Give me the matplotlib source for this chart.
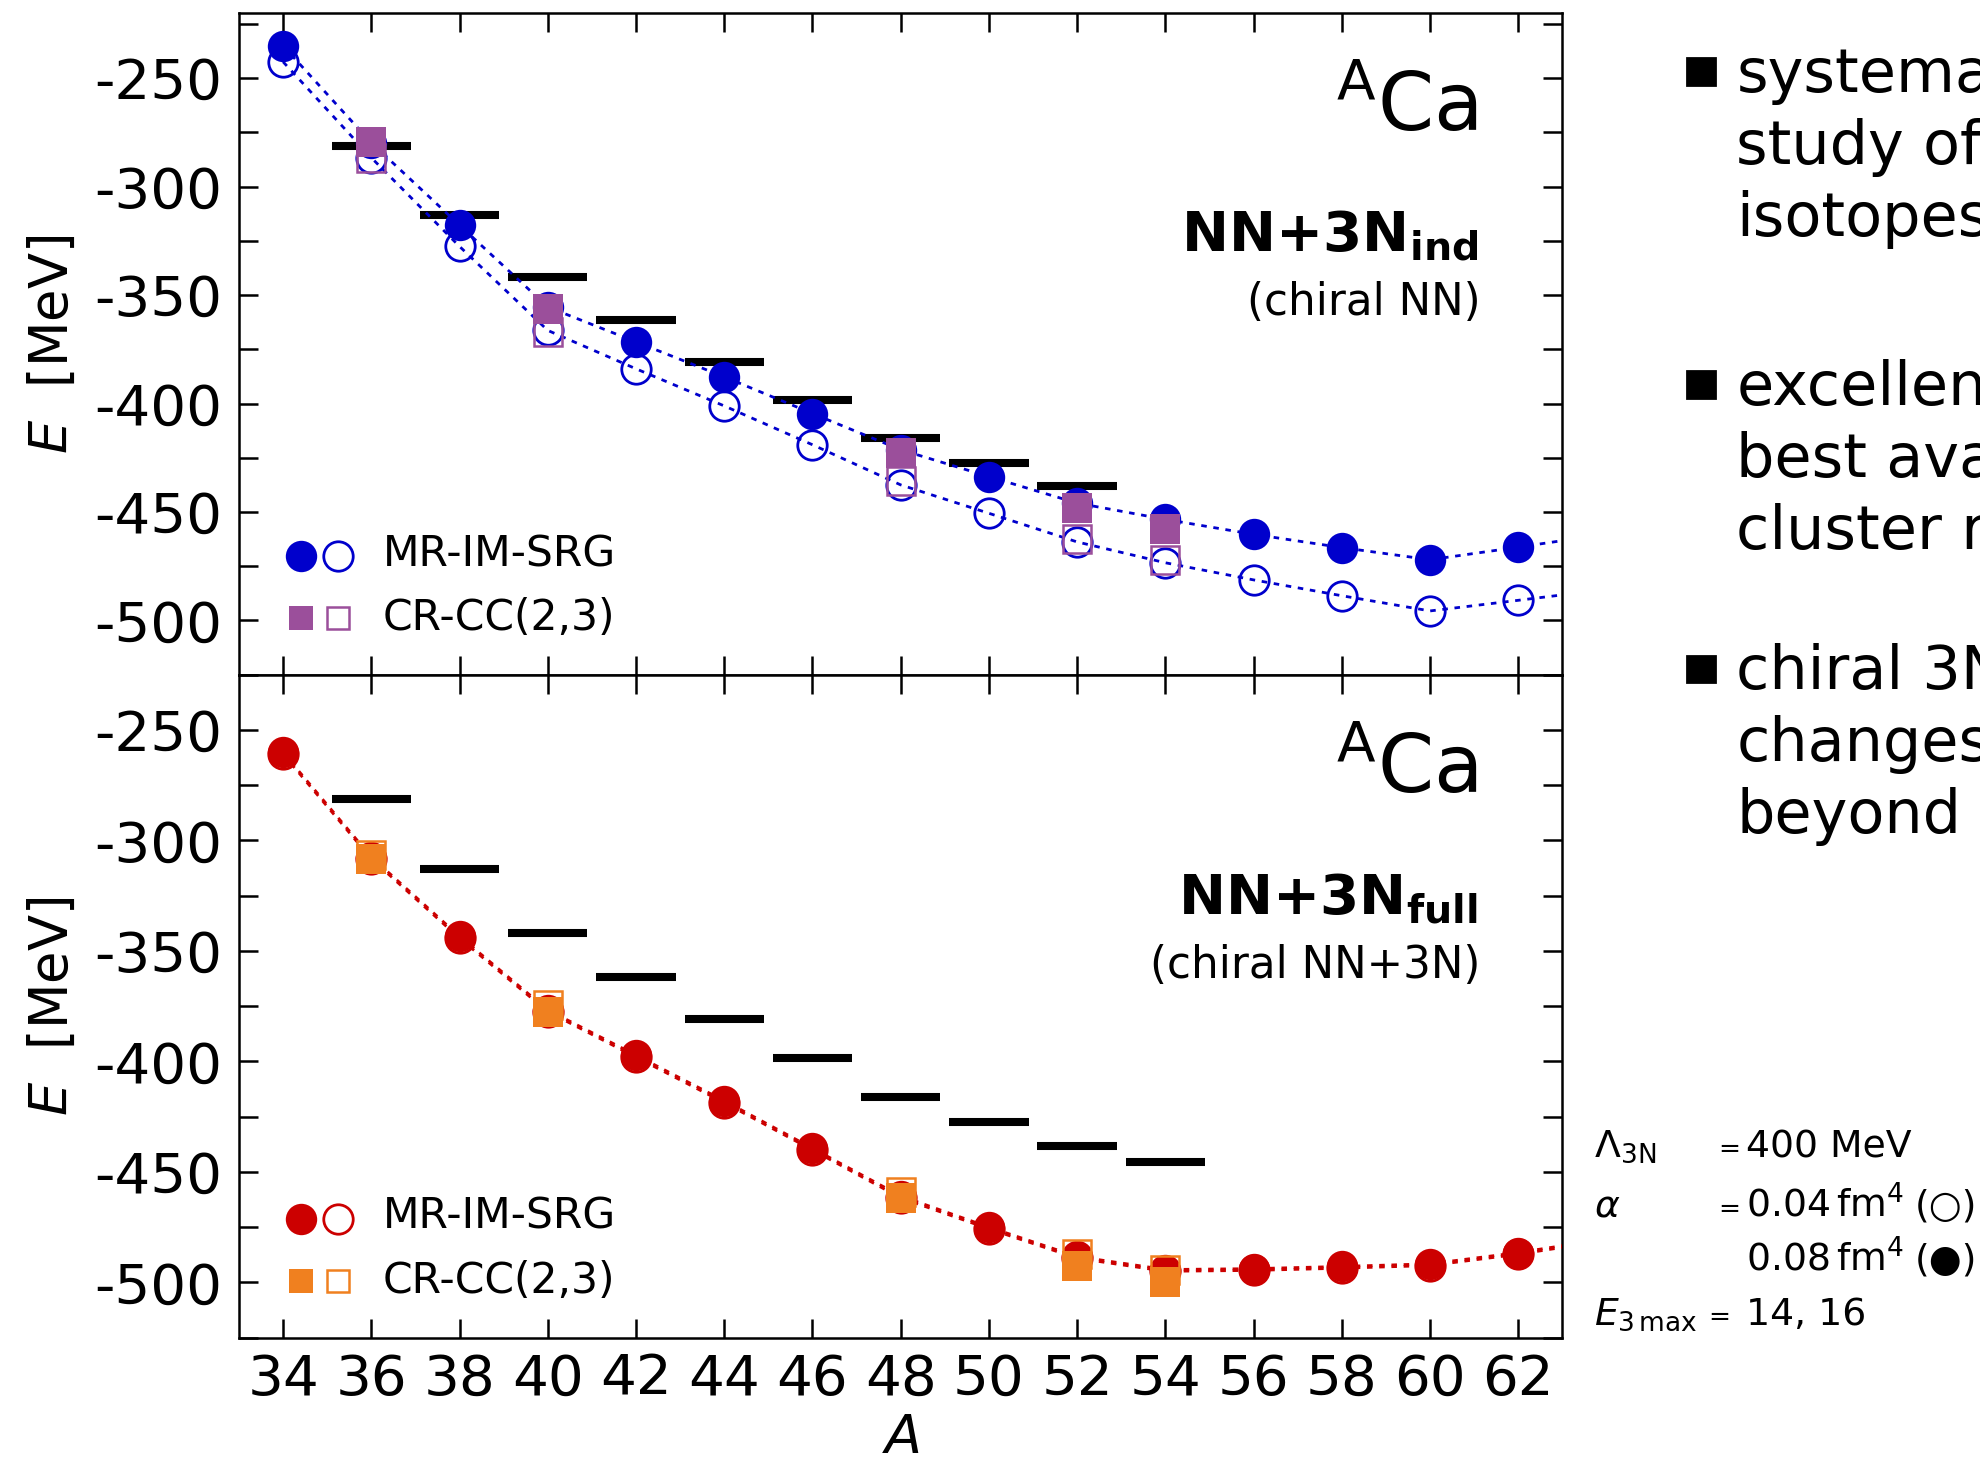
import numpy as np
import matplotlib.pyplot as plt
from matplotlib.patches import Rectangle

plt.rcParams['font.family'] = ['DejaVu Sans']
plt.rcParams['mathtext.fontset'] = 'dejavusans'
plt.rcParams['axes.unicode_minus'] = False

# mass numbers of the calculated isotopes (64 only carries the line to the frame)
A_calc = [34, 36, 38, 40, 42, 44, 46, 48, 50, 52, 54, 56, 58, 60, 62, 64]
A_cc = [36, 40, 48, 52, 54]
A_exp = [36, 38, 40, 42, 44, 46, 48, 50, 52, 54]

# NN+3N induced, MR-IM-SRG, alpha = 0.08 (filled) / 0.04 (open)
ind_imsrg_08 = [-235.1, -279.8, -317.8, -355.5, -371.6, -387.7, -404.6, -421.3,
                -433.7, -445.9, -453.4, -460.3, -466.4, -472.0, -466.2, -460.2]
ind_imsrg_04 = [-242.5, -286.7, -327.6, -366.3, -384.0, -401.1, -419.0, -437.5,
                -450.6, -463.8, -473.4, -481.3, -488.6, -495.6, -490.7, -485.7]
ind_cc_08 = [-279.5, -356.5, -422.7, -448.3, -457.7]
ind_cc_04 = [-287.0, -366.9, -435.7, -462.4, -472.2]

# NN+3N full
full_imsrg_08 = [-260.2, -307.5, -343.4, -376.7, -397.2, -417.8, -439.3, -460.9,
                 -475.0, -488.3, -494.2, -493.8, -492.8, -491.6, -486.5, -480.3]
full_imsrg_04 = [-261.0, -308.3, -344.3, -377.5, -398.1, -418.7, -440.1, -461.8,
                 -475.8, -489.1, -495.0, -494.6, -493.6, -492.4, -487.3, -481.1]
full_cc_08 = [-308.5, -377.7, -461.9, -492.8, -499.8]
full_cc_04 = [-306.5, -374.7, -458.9, -487.3, -494.2]

# experiment
E_exp = [-281.2, -313.0, -341.8, -361.7, -380.8, -398.5, -415.9, -427.4, -438.2, -445.6]

BLUE = '#0000cc'
PURPLE = '#9b4f9b'
RED = '#cc0000'
ORANGE = '#f0801f'
DOT = (0, (2.0, 2.4))

fig = plt.figure(figsize=(9.9, 7.31), dpi=200)
ax1 = fig.add_axes([0.1207, 0.5385, 0.6684, 0.4526])
ax2 = fig.add_axes([0.1207, 0.0851, 0.6684, 0.4534])


def panel(ax, im08, im04, cc08, cc04, cl, ccol, n_exp, ylim, main, sub):
    ax.hlines(E_exp[:n_exp], np.array(A_exp[:n_exp]) - 0.9, np.array(A_exp[:n_exp]) + 0.9,
              color='k', lw=2.9, zorder=2)
    ax.plot(A_calc, im04, ls=DOT, lw=1.0, color=cl, marker='o', ms=10.6,
            mfc='none', mec=cl, mew=1.0, zorder=3)
    ax.plot(A_calc, im08, ls=DOT, lw=1.0, color=cl, marker='o', ms=11.3,
            mfc=cl, mec=cl, mew=0, zorder=3)
    ax.plot(A_cc, cc04, ls='none', marker='s', ms=10.0, mfc='none', mec=ccol,
            mew=0.9, zorder=4)
    ax.plot(A_cc, cc08, ls='none', marker='s', ms=10.8, mfc=ccol, mew=0, zorder=5)

    ax.set_xlim(33, 63)
    ax.set_ylim(*ylim)
    ax.set_xticks(range(34, 63, 2))
    ax.set_yticks(np.arange(-500, -249, 50))
    ax.set_yticks(np.arange(-525, -200, 25), minor=True)
    ax.tick_params(which='both', direction='in', top=True, right=True,
                   length=6.75, width=0.9, labelsize=20.3)
    ax.tick_params(axis='y', pad=6)
    ax.tick_params(axis='x', pad=5.5)
    for s in ax.spines.values():
        s.set_linewidth(0.9)
    ax.set_ylabel(r'$E$  [MeV]', fontsize=19)
    ax.yaxis.set_label_coords(-0.121, 0.5)

    # legend
    tr = ax.transAxes
    ax.plot([0.0472], [0.179], 'o', ms=11.3, mfc=cl, mew=0, transform=tr, clip_on=False)
    ax.plot([0.0749], [0.179], 'o', ms=10.6, mfc='none', mec=cl, mew=1.0,
            transform=tr, clip_on=False)
    ax.plot([0.0472], [0.0852], 's', ms=8.6, mfc=ccol, mew=0, transform=tr, clip_on=False)
    ax.plot([0.0749], [0.0852], 's', ms=8.0, mfc='none', mec=ccol, mew=0.9,
            transform=tr, clip_on=False)
    ax.text(0.1085, 0.1639, 'MR-IM-SRG', fontsize=15.3, transform=tr, va='baseline')
    ax.text(0.1085, 0.0675, 'CR-CC(2,3)', fontsize=15.3, transform=tr, va='baseline')

    ax.text(0.936, 0.822, r'$^{\rm A}$Ca', fontsize=29, ha='right', va='baseline',
            transform=tr)
    ax.text(0.936, 0.639, main, fontsize=20.3, ha='right', va='baseline', transform=tr)
    ax.text(0.938, 0.543, sub, fontsize=15.7, ha='right', va='baseline', transform=tr)


panel(ax1, ind_imsrg_08, ind_imsrg_04, ind_cc_08, ind_cc_04, BLUE, PURPLE, 9,
      (-520, -220), r'$\mathbf{NN{+}3N}_{\mathbf{ind}}$', '(chiral NN)')
panel(ax2, full_imsrg_08, full_imsrg_04, full_cc_08, full_cc_04, RED, ORANGE, 10,
      (-520, -229.8), r'$\mathbf{NN{+}3N}_{\mathbf{full}}$', '(chiral NN+3N)')
ax1.tick_params(labelbottom=False)
ax2.set_xlabel(r'$A$', fontsize=19.5, labelpad=2)

# bullet points on the right, cut by the page edge
bullets = [['systematic', 'study of Ca', 'isotopes'],
           ['excellent', 'best available', 'cluster results'],
           ['chiral 3N', 'changes', 'beyond']]
first_base = [0.9373, 0.7232, 0.5287]
for lines, y0 in zip(bullets, first_base):
    fig.add_artist(Rectangle((0.8518, y0 + 0.0045), 0.0142, 0.0183,
                             transform=fig.transFigure, color='k'))
    for i, t in enumerate(lines):
        fig.text(0.8770, y0 - i * 0.0493, t, fontsize=21.8, va='baseline')

# parameters
fs = 13.6
rows = [0.2086, 0.1678, 0.1313, 0.0937]
fig.text(0.805, rows[0], r'$\Lambda_{\rm 3N}$', fontsize=fs, va='baseline')
fig.text(0.805, rows[1], r'$\alpha$', fontsize=fs, va='baseline')
fig.text(0.805, rows[3], r'$E_{\rm 3\,max}$', fontsize=fs, va='baseline')
fig.text(0.8677, rows[0], '=', fontsize=9.5, va='baseline')
fig.text(0.8677, rows[1], '=', fontsize=9.5, va='baseline')
fig.text(0.8626, rows[3], '=', fontsize=9.5, va='baseline')
fig.text(0.8818, rows[0], '400 MeV', fontsize=fs, va='baseline')
fig.text(0.8818, rows[1], r'0.04$\,$fm$^4$', fontsize=fs, va='baseline')
fig.text(0.8818, rows[2], r'0.08$\,$fm$^4$', fontsize=fs, va='baseline')
fig.text(0.9985, rows[1], '(○)', fontsize=fs, va='baseline', ha='right')
fig.text(0.9985, rows[2], '(●)', fontsize=fs, va='baseline', ha='right')
fig.text(0.8818, rows[3], '14, 16', fontsize=fs, va='baseline')

fig.savefig('out.png', dpi=200)
